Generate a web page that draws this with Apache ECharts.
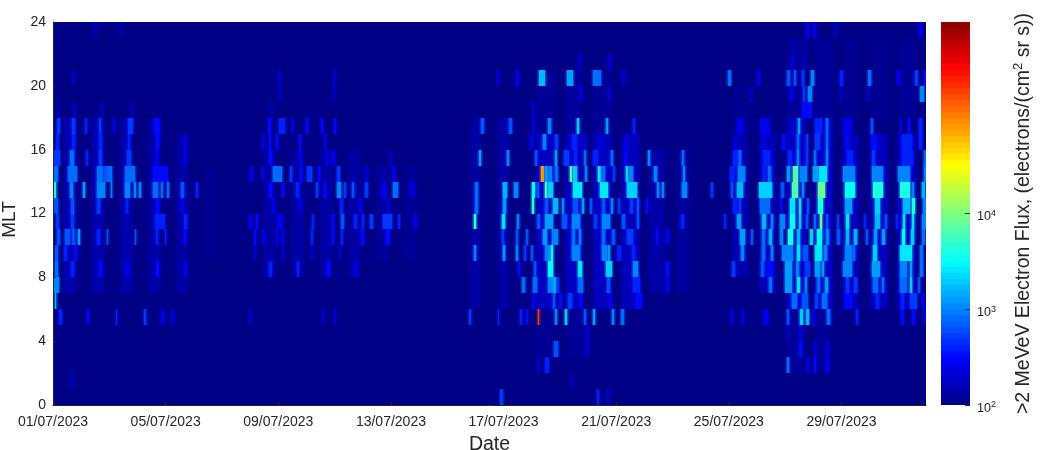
<!DOCTYPE html>
<html><head><meta charset="utf-8">
<script src="https://cdn.jsdelivr.net/npm/echarts@6/dist/echarts.min.js"></script>
<style>html,body{margin:0;padding:0;background:#fff}#c{width:1050px;height:450px}</style>
</head><body><div id="c"></div>
<script>
// Each row: [start day since 01/07/2023, duration in days, flux]. Time not listed stays at floorFlux.
const floorFlux = 100, totalDays = 31;
const tickLabels = ['01/07/2023','05/07/2023','09/07/2023','13/07/2023','17/07/2023','21/07/2023','25/07/2023','29/07/2023'];
const barTicks = [100,1000,10000];
const barLevels = 64, barMin = 100, barMax = 1000000;
// Faint background streaks: [first MLT row, last MLT row, start day, duration, flux]
const haze = [
 [7,17,.4,.4,140],[7,17,1.4,.4,140],[7,17,2.4,.4,140],[7,17,3.4,.4,135],[7,16,4.4,.4,130],[9,14,5.4,.4,112],
 [8,15,7.5,.4,130],[8,15,8.5,.4,130],[8,15,9.5,.4,130],[8,15,10.5,.4,130],[9,14,11.5,.4,125],[9,14,12.5,.4,115],
 [6,17,14.85,.3,130],[6,17,15.85,.3,135],
 [6,16,17.2,.6,170],[6,16,18.2,.6,170],[6,16,19.2,.6,170],[6,16,20.2,.6,160],[7,15,21.2,.5,135],[7,15,22.2,.4,125],
 [17,20,17.2,.6,118],[17,20,18.2,.6,122],[17,20,19.2,.6,118],[3,5,17.2,.6,115],[3,5,18.3,.6,115],
 [8,16,24.15,.5,150],[7,16,25.1,.55,165],[5,17,26.05,.65,180],[5,17,27.05,.6,180],[6,16,28.05,.55,165],[6,16,29.05,.55,170],[6,16,30,.6,175],
 [18,22,26.1,.55,120],[18,22,27.1,.55,118],[18,22,28.1,.5,112],[18,22,29.1,.5,112],[18,22,30.1,.5,115],[2,5,26.1,.6,118],[2,5,27.1,.5,118],[17,19,24.2,.5,112]
];
const mlt23 = [[1.47,.08,150],[2.38,.08,150],[26.74,.1,250],[27,.1,250],[27.75,.1,160],[30.75,.1,250]];
const mlt22 = [[26.2,.1,130],[26.7,.1,130]];
const mlt21 = [[26.2,.1,200],[26.65,.1,160],[18.64,.1,180],[19.7,.1,180]];
const mlt20 = [[.67,.1,160],[7.99,.1,180],[9.94,.1,180],[15.77,.07,200],[16.44,.12,250],[17.26,.21,1600],[18.25,.21,1300],[19.18,.28,800],[20.2,.1,200],[23.97,.1,800],[25,.1,250],[26.06,.1,630],[26.31,.07,630],[26.6,.07,500],[26.92,.1,1000],[27.95,.1,400],[28.94,.1,800],[29.97,.1,250],[30.6,.1,500],[30.93,.07,320]];
const mlt19 = [[7.99,.1,160],[9.94,.1,160],[18.72,.08,250],[19.7,.08,200],[24.75,.1,160],[26.17,.1,250],[26.63,.07,500],[26.81,.14,1000],[27.95,.07,200],[28.9,.08,200],[30.78,.14,1000]];
const mlt18 = [[.14,.07,160],[.71,.1,160],[1.67,.1,160],[2.73,.1,160],[7.7,.1,160],[17.02,.07,200],[26.6,.36,320]];
const mlt17 = [[.14,.1,500],[.68,.1,500],[1.15,.05,400],[1.64,.08,500],[2.14,.05,250],[2.65,.2,500],[3.6,.2,320],[7.65,.1,320],[8.03,.2,400],[8.49,.05,320],[8.99,.05,320],[9.53,.05,320],[9.99,.05,320],[15.2,.11,630],[16.2,.11,630],[17.58,.11,1000],[18.62,.06,2000],[19.65,.06,1260],[20.6,.06,400],[17.02,.1,200],[24.29,.21,250],[25.1,.35,250],[26.46,.06,1260],[27.06,.25,400],[27.46,.07,800],[28.05,.32,250],[29.06,.07,630],[30.06,.07,320],[30.35,.07,320],[30.76,.1,400]];
const mlt16 = [[.12,.08,400],[.68,.1,400],[1.64,.1,400],[2.65,.1,400],[3.66,.1,320],[4.66,.07,250],[7.43,.07,250],[7.68,.07,320],[7.93,.07,320],[8.75,.07,320],[9.63,.07,250],[17.4,.1,1000],[16.93,.1,250],[17.82,.1,500],[18.43,.18,400],[18.87,.07,250],[19.4,.07,250],[20.35,.07,250],[24.2,.07,250],[25.2,.1,250],[25.89,.1,320],[26.43,.07,800],[26.75,.07,500],[27.06,.18,500],[27.46,.07,800],[28.17,.1,320],[29.06,.21,320],[30.15,.35,400],[30.76,.1,400]];
const mlt15 = [[0,.25,500],[.62,.12,800],[1.17,.06,400],[1.62,.12,500],[2.62,.14,500],[3.62,.12,250],[4.64,.1,250],[7.68,.08,320],[8.74,.08,250],[9.7,.08,250],[9.92,.08,250],[11.94,.1,160],[15.13,.06,1260],[16.12,.06,1000],[17.12,.07,630],[17.83,.07,1260],[18.15,.18,500],[18.5,.1,400],[18.84,.07,800],[19.17,.18,400],[19.82,.07,800],[20.32,.07,320],[21.14,.07,1000],[22.34,.07,800],[24.14,.25,400],[24.35,.07,800],[25.2,.25,400],[26.1,.14,400],[26.43,.07,1000],[26.75,.07,500],[27.03,.07,800],[27.46,.07,1000],[28.2,.2,400],[29.1,.1,500],[30.15,.39,400],[30.92,.08,800]];
const mlt14 = [[0,.18,800],[.53,.32,800],[1.56,.2,800],[1.82,.12,630],[1.95,.14,800],[2.56,.36,800],[3.55,.53,320],[6.99,.11,250],[7.42,.05,320],[7.81,.32,800],[8.42,.08,500],[8.77,.07,320],[9.02,.18,500],[9.41,.07,320],[10.08,.1,500],[11.08,.1,200],[12.04,.1,250],[17.33,.11,80000],[17.47,.1,1260],[17.61,.11,1000],[17.82,.11,800],[18.36,.07,8000],[18.47,.14,2000],[18.89,.07,1000],[19.35,.11,3200],[19.46,.14,800],[19.88,.07,500],[20.35,.07,2500],[20.45,.14,1000],[21.34,.11,1000],[22.37,.07,1000],[24.04,.18,400],[24.32,.25,1000],[25.2,.1,400],[25.38,.1,800],[26.06,.11,1260],[26.28,.18,6300],[26.52,.25,1000],[26.98,.18,1260],[27.2,.28,2500],[28.05,.42,1000],[29.08,.39,1000],[30,.43,1000],[30.92,.08,1000]];
const mlt13 = [[0,.1,3200],[.6,.1,1000],[1.06,.06,1260],[1.56,.28,1000],[2.05,.06,1000],[2.56,.18,1000],[2.88,.07,1000],[3.06,.07,1000],[3.55,.18,800],[3.85,.07,800],[4.06,.07,800],[4.56,.08,630],[5.09,.06,400],[7.68,.08,320],[8.14,.06,320],[8.64,.08,400],[9.34,.08,500],[9.63,.08,320],[10.08,.14,1000],[10.33,.08,500],[10.62,.08,630],[11.08,.11,500],[11.7,.14,250],[12.07,.18,800],[12.68,.18,200],[15,.08,800],[15.98,.14,1600],[16.37,.14,1000],[17.02,.08,3200],[17.2,.07,630],[17.47,.07,6300],[17.58,.18,2000],[18.47,.32,2500],[19.42,.28,2500],[20.38,.36,2000],[21.46,.07,1000],[21.64,.07,1000],[22.33,.18,1000],[23.36,.07,500],[24.07,.08,630],[24.29,.21,1600],[25.07,.46,2000],[25.85,.1,630],[26.24,.21,6300],[26.6,.07,1000],[27.16,.25,8000],[28.12,.35,3200],[29.12,.35,4000],[30.08,.35,4000],[30.5,.07,1000],[30.87,.1,1600]];
const mlt12 = [[0,.18,630],[.64,.1,630],[1.56,.1,500],[2.58,.1,400],[3.65,.1,320],[4.56,.1,250],[7.77,.1,250],[8.72,.1,250],[10.19,.1,400],[10.87,.1,250],[11.87,.1,200],[14.98,.11,800],[15.98,.11,1260],[17.02,.06,4000],[17.47,.11,630],[17.75,.18,1600],[18.07,.07,1000],[18.46,.18,630],[18.8,.07,1260],[19.08,.07,630],[19.5,.11,630],[19.82,.07,1000],[20.07,.07,500],[20.49,.11,500],[20.75,.07,630],[21.07,.07,320],[24.14,.14,400],[24.37,.07,500],[25.1,.35,800],[25.8,.1,320],[26.17,.18,2500],[26.5,.07,2500],[26.78,.07,630],[27.16,.18,4000],[28.12,.25,1260],[29.18,.18,2000],[30.18,.25,1600],[30.5,.1,4000],[30.89,.11,1000]];
const mlt11 = [[.1,.1,500],[.64,.1,500],[3.62,.35,400],[4.66,.1,400],[6.96,.1,250],[7.2,.08,320],[7.95,.21,250],[9.2,.08,400],[9.92,.07,320],[10.22,.1,630],[10.7,.08,400],[10.98,.08,400],[11.27,.08,500],[11.72,.32,500],[12.26,.07,400],[12.83,.1,250],[14.96,.06,5000],[15.94,.11,2500],[16.48,.08,1000],[17.2,.08,630],[17.47,.28,1260],[18.07,.18,630],[18.43,.28,1000],[19.22,.08,500],[19.5,.28,1000],[20.22,.08,630],[20.72,.08,630],[22.3,.1,400],[23.83,.08,400],[24.29,.14,1260],[25.18,.14,1600],[25.5,.08,1000],[25.82,.18,1000],[26.17,.18,3200],[26.5,.07,2000],[26.75,.07,630],[27.03,.08,800],[27.24,.07,8000],[27.46,.07,630],[27.85,.07,500],[28.17,.11,2500],[28.8,.07,400],[29.18,.18,1600],[29.53,.07,630],[29.94,.07,400],[30.18,.07,2500],[30.5,.07,2500],[30.85,.14,1000]];
const mlt10 = [[.14,.1,630],[.43,.18,630],[.67,.11,630],[.9,.06,1260],[1.58,.08,400],[1.9,.05,630],[2.9,.05,630],[3.66,.08,400],[3.96,.06,400],[4.66,.08,320],[7.14,.08,320],[7.43,.08,250],[7.92,.08,250],[8.14,.08,250],[9.16,.08,400],[9.9,.08,320],[10.22,.08,400],[10.95,.08,320],[11.83,.14,320],[15.95,.08,500],[16.44,.08,630],[16.8,.08,630],[17.4,.14,1260],[17.72,.21,1000],[18.43,.11,800],[18.68,.08,1000],[19.5,.11,800],[19.85,.11,630],[20.38,.21,500],[21.42,.08,320],[21.78,.08,250],[24.39,.18,1260],[24.8,.07,630],[25.18,.11,800],[25.44,.08,1600],[25.82,.11,1000],[26.1,.18,4000],[26.43,.08,1600],[26.88,.1,2000],[27.13,.18,3200],[27.46,.08,1000],[27.85,.08,630],[28.17,.1,1600],[28.46,.08,1600],[28.87,.08,630],[29.16,.1,1260],[29.44,.1,1260],[30.15,.11,3200],[30.47,.1,2000],[30.87,.1,800]];
const mlt09 = [[.07,.11,630],[.39,.1,400],[.75,.1,320],[7.14,.08,200],[8.14,.08,200],[9.16,.08,200],[10.16,.08,200],[14.96,.06,1000],[15.98,.06,1260],[16.44,.08,1000],[16.73,.08,500],[16.98,.08,630],[17.47,.18,1000],[17.7,.06,3200],[18.43,.28,1000],[19.5,.18,1000],[19.7,.07,1260],[20.03,.14,400],[20.57,.08,400],[24.43,.1,1000],[25.18,.11,800],[25.5,.08,1000],[25.89,.39,1000],[26.43,.1,2500],[26.63,.18,630],[27.06,.25,2500],[27.39,.1,1000],[28.12,.25,1000],[28.4,.07,800],[29.12,.14,2000],[30.08,.43,2500],[30.79,.11,800]];
const mlt08 = [[.07,.11,800],[.64,.1,400],[1.64,.1,320],[2.6,.1,250],[3.66,.1,320],[4.66,.1,250],[7.68,.08,400],[8.66,.08,400],[9.73,.1,320],[10.7,.1,250],[16.5,.08,320],[17.08,.08,630],[17.58,.18,3200],[18.64,.14,2500],[19.64,.21,2000],[20.6,.18,1000],[21.78,.08,320],[24.12,.08,500],[25.15,.08,630],[25.36,.21,320],[25.99,.25,1260],[26.38,.1,1000],[26.7,.18,500],[27.06,.18,1260],[27.32,.07,1260],[28.05,.32,1000],[29.08,.28,1260],[30.08,.25,1000],[30.42,.08,1260],[30.79,.11,800]];
const mlt07 = [[0,.2,1000],[16.65,.11,800],[17.05,.14,800],[17.58,.25,1000],[17.8,.05,1600],[17.9,.07,500],[18.64,.18,800],[19.67,.11,630],[20.6,.25,400],[21.78,.08,250],[25.44,.08,800],[25.99,.25,1260],[26.43,.08,2500],[26.7,.08,1000],[27.13,.11,800],[27.41,.11,1260],[28.17,.08,500],[28.46,.08,500],[29.12,.18,800],[29.44,.08,800],[30.08,.25,800],[30.42,.08,2000],[30.7,.08,630]];
const mlt06 = [[.06,.06,1600],[17.02,.08,250],[17.74,.08,630],[17.98,.08,320],[18.3,.12,500],[18.7,.1,320],[19.75,.1,250],[20.7,.2,320],[26.24,.18,800],[26.6,.21,630],[27.06,.11,500],[27.3,.18,800],[28.12,.25,320],[29.24,.08,400],[30.12,.1,400],[30.42,.25,500],[30.87,.1,250]];
const mlt05 = [[.2,.12,400],[1.22,.05,320],[2.22,.05,400],[3.24,.08,500],[3.85,.08,250],[4.2,.08,200],[6.96,.08,200],[9.55,.08,200],[9.98,.08,200],[14.78,.07,500],[15.8,.05,400],[16.6,.05,400],[16.8,.05,320],[17.21,.06,200000],[17.83,.08,1000],[18.19,.06,2000],[18.87,.05,630],[19.18,.06,1260],[19.86,.06,1000],[20.17,.1,800],[24.07,.08,250],[24.47,.08,250],[25.2,.18,250],[26.07,.08,630],[26.52,.11,2000],[26.75,.08,1600],[26.95,.08,250],[27.5,.08,800],[28.52,.08,400],[30.12,.1,320],[30.5,.1,320],[30.92,.08,250]];
const mlt04 = [[18.94,.08,180],[26.03,.1,160],[26.5,.1,200]];
const mlt03 = [[17.78,.14,630],[18.94,.1,200],[26.5,.1,320],[27.03,.1,200],[27.46,.1,200]];
const mlt02 = [[17.47,.14,400],[17.17,.08,200],[26.07,.07,800],[26.78,.08,250],[27.03,.08,320],[27.46,.1,250]];
const mlt01 = [[.64,.1,160],[18.4,.07,170]];
const mlt00 = [[15.87,.11,500],[19.3,.08,400],[19.67,.08,200]];
const mltRows = [mlt00,mlt01,mlt02,mlt03,mlt04,mlt05,mlt06,mlt07,mlt08,mlt09,mlt10,mlt11,mlt12,mlt13,mlt14,mlt15,mlt16,mlt17,mlt18,mlt19,mlt20,mlt21,mlt22,mlt23];

// MATLAB jet
function jet(t){const c=v=>Math.round(255*Math.max(0,Math.min(1,v)));
  return `rgb(${c(1.5-Math.abs(4*t-3))},${c(1.5-Math.abs(4*t-2))},${c(1.5-Math.abs(4*t-1))})`;}
const jetStops=[];for(let i=0;i<barLevels;i++)jetStops.push(jet((i+.5)/barLevels));

const cells=[];
mltRows.forEach((row,mlt)=>{
  cells.push([0,totalDays,mlt,Math.log10(floorFlux),0]);
  haze.filter(h=>mlt>=h[0]&&mlt<=h[1]).forEach(h=>cells.push([h[2],h[2]+h[3],mlt,Math.log10(h[4]),1]));
  row.forEach(s=>cells.push([s[0],s[0]+s[1],mlt,Math.log10(s[2]),1]));
});
const barCells=[];
const decades=Math.log10(barMax/barMin);
for(let i=0;i<barLevels;i++){
  const lo=Math.log10(barMin)+decades*i/barLevels, hi=Math.log10(barMin)+decades*(i+1)/barLevels;
  barCells.push([0,Math.pow(10,lo),Math.pow(10,hi),(lo+hi)/2]);
}
const ink='#262626';
const chart=echarts.init(document.getElementById('c'),null,{renderer:'canvas'});
chart.setOption({
  animation:false,backgroundColor:'#fff',
  textStyle:{fontFamily:'"Liberation Sans",Arial,sans-serif'},
  grid:[{left:53,top:22,width:873,height:383,outerBoundsMode:'none'},
        {left:941,top:22,width:29,height:383,outerBoundsMode:'none'}],
  xAxis:[{type:'value',gridIndex:0,min:0,max:totalDays,interval:4,z:5,splitLine:{show:false},
      axisLine:{onZero:false,lineStyle:{color:ink}},axisTick:{inside:true,length:3,lineStyle:{color:ink}},
      axisLabel:{color:ink,fontSize:14,margin:10,showMaxLabel:false,formatter:v=>tickLabels[v/4]||''},
      name:'Date',nameLocation:'middle',nameGap:30,nameTextStyle:{color:ink,fontSize:19.5}},
    {type:'value',gridIndex:1,min:0,max:1,show:false,axisLine:{onZero:false}}],
  yAxis:[{type:'value',gridIndex:0,min:0,max:24,interval:4,z:5,splitLine:{show:false},
      axisLine:{onZero:false,lineStyle:{color:ink}},axisTick:{inside:true,length:3,lineStyle:{color:ink}},
      axisLabel:{color:ink,fontSize:14,margin:7},
      name:'MLT',nameLocation:'middle',nameGap:25,nameRotate:90,nameTextStyle:{color:ink,fontSize:19,padding:[0,12,0,0]}},
    {type:'log',gridIndex:1,logBase:10,min:barMin,max:barMax,position:'right',z:5,splitLine:{show:false},
      axisLine:{show:false,onZero:false},
      axisTick:{inside:true,length:5,lineStyle:{color:ink},customValues:barTicks},
      axisLabel:{color:ink,fontSize:12,margin:7,padding:[7,0,0,0],customValues:barTicks,
        formatter:v=>'{b|10}{s|'+Math.round(Math.log10(v))+'}',
        rich:{b:{fontSize:12.5,color:ink},s:{fontSize:9,color:ink,padding:[0,0,7,0]}}},
      name:'>2 MeVeV Electron Flux, (electrons/(cm{s|2} sr s))',nameLocation:'middle',nameGap:42,nameRotate:90,
      nameTextStyle:{color:ink,fontSize:19.5,rich:{s:{fontSize:13,color:ink,padding:[0,0,11,0]}}}}],
  visualMap:{type:'continuous',seriesIndex:[0,1],dimension:3,min:2,max:6,show:false,inRange:{color:jetStops}},
  series:[{type:'custom',xAxisIndex:0,yAxisIndex:0,data:cells,encode:{x:[0,1],y:2},clip:true,progressive:0,silent:true,
    renderItem(params,api){
      const a=api.coord([api.value(0),api.value(2)+1]),b=api.coord([api.value(1),api.value(2)]);
      const x0=Math.round(a[0]);let x1=Math.round(b[0]);if(x1<=x0)x1=x0+1;
      const y0=Math.round(a[1]),y1=Math.round(b[1]);
      const fill=api.visual('color'), children=[];
      if(api.value(4)){
        children.push({type:'rect',shape:{x:x0-2,y:y0,width:x1-x0+4,height:y1-y0},style:{fill,opacity:.2}});
        children.push({type:'rect',shape:{x:x0-1,y:y0,width:x1-x0+2,height:y1-y0},style:{fill,opacity:.3}});
      }
      children.push({type:'rect',shape:{x:x0,y:y0,width:x1-x0,height:y1-y0},style:{fill}});
      return {type:'group',children};
    }},
    {type:'custom',xAxisIndex:1,yAxisIndex:1,data:barCells,dimensions:['x','lo','hi','level'],
      encode:{y:[1,2]},clip:true,progressive:0,silent:true,
      renderItem(params,api){
        const a=api.coord([0,api.value(2)]),b=api.coord([1,api.value(1)]);
        const y0=Math.round(a[1]),y1=Math.round(b[1]);
        return {type:'rect',shape:{x:a[0],y:y0,width:b[0]-a[0],height:y1-y0},style:{fill:api.visual('color')}};
      }}]
});
</script></body></html>
